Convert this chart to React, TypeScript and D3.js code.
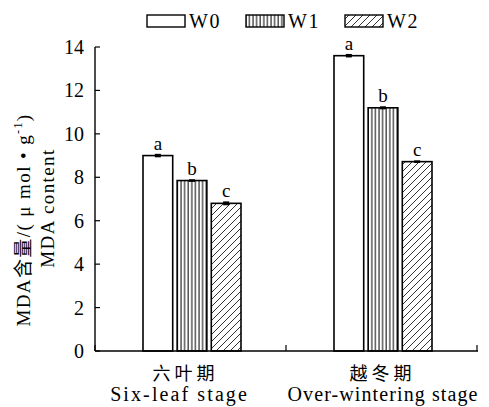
import React from 'react'
import * as d3 from 'd3'

const width = 489
const height = 407

const stages = ['六叶期', '越冬期']
const stagesEn = ['Six-leaf stage', 'Over-wintering stage']
const series = ['W0', 'W1', 'W2']
const valuesW0 = [9.0, 13.6]
const valuesW1 = [7.85, 11.2]
const valuesW2 = [6.8, 8.72]
const errW0 = [0.08, 0.08]
const errW1 = [0.06, 0.07]
const errW2 = [0.09, 0.06]
const lettersW0 = ['a', 'a']
const lettersW1 = ['b', 'b']
const lettersW2 = ['c', 'c']
const yTicks = [0, 2, 4, 6, 8, 10, 12, 14]

const font = '"Liberation Serif", "Times New Roman", "Noto Sans CJK SC", serif'

const App = () => {
  const x = d3.scaleBand().domain(stages).range([95, 477]).paddingInner(0).paddingOuter(0)
  const xs = d3.scaleBand().domain(series).range([48, 146]).paddingInner(0.13)
  const y = d3.scaleLinear().domain([0, 14]).range([351, 47])

  const vals = [valuesW0, valuesW1, valuesW2]
  const errs = [errW0, errW1, errW2]
  const letters = [lettersW0, lettersW1, lettersW2]
  const fills = ['#fff', 'url(#vert)', 'url(#diag)']

  const bars: any[] = []
  stages.forEach((st, i) => {
    series.forEach((s, j) => {
      bars.push({st, s, v: vals[j][i], e: errs[j][i], l: letters[j][i], fill: fills[j]})
    })
  })

  const legendX = [147, 246, 345]
  // small horizontal nudges for the category labels
  const cnShift = [-7, -1]
  const enShift = [-12, 1]
  const enSpacing = [2.1, 1.1]

  return (
    <div style={{width: '100%'}}>
      <svg width={width} height={height} style={{position: 'absolute', left: 0, top: 0, background: '#fff'}}>
        <defs>
          <pattern id="vert" patternUnits="userSpaceOnUse" width="3.6" height="10">
            <rect width="3.6" height="10" fill="#fff" />
            <line x1="1" y1="0" x2="1" y2="10" stroke="#000" strokeWidth="1" />
          </pattern>
          <pattern id="diag" patternUnits="userSpaceOnUse" width="7" height="7">
            <rect width="7" height="7" fill="#fff" />
            <path d="M0,7 L7,0 M-1,1 L1,-1 M6,8 L8,6" stroke="#000" strokeWidth="0.8" />
          </pattern>
        </defs>

        {/* bars */}
        {bars.map((b, k) => {
          const bx = (x(b.st) as number) + (xs(b.s) as number)
          const bw = xs.bandwidth()
          const cx = bx + bw / 2
          return (
            <g key={k}>
              <rect x={bx} y={y(b.v)} width={bw} height={y(0) - y(b.v)} fill={b.fill} stroke="#000" strokeWidth={1.6} />
              <rect x={cx - 3} y={y(b.v + b.e)} width={6} height={y(b.v - b.e) - y(b.v + b.e)} fill="#000" />
              <text x={cx} y={y(b.v + b.e) - 4} textAnchor="middle" fontFamily={font} fontSize={19}>
                {b.l}
              </text>
            </g>
          )
        })}

        {/* axes */}
        <line x1={95} x2={95} y1={y(14)} y2={y(0)} stroke="#000" strokeWidth={1.4} />
        <line x1={95} x2={478} y1={y(0)} y2={y(0)} stroke="#000" strokeWidth={1.4} />
        {yTicks.map(t => (
          <g key={t}>
            <line x1={95} x2={100} y1={y(t)} y2={y(t)} stroke="#000" strokeWidth={1.2} />
            <text x={84} y={y(t)} dy="0.35em" textAnchor="end" fontFamily={font} fontSize={20}>
              {t}
            </text>
          </g>
        ))}
        {[95, 286, 477].map(tx => (
          <line key={tx} x1={tx} x2={tx} y1={y(0)} y2={y(0) - 6} stroke="#000" strokeWidth={1.2} />
        ))}

        {/* x labels */}
        {stages.map((st, i) => {
          const cx = (x(st) as number) + x.bandwidth() / 2
          return (
            <g key={st}>
              <text x={cx + cnShift[i] + 2} y={380} textAnchor="middle" fontFamily={font} fontSize={18} letterSpacing={4}>
                {st}
              </text>
              <text x={cx + enShift[i] + enSpacing[i] / 2} y={401} textAnchor="middle" fontFamily={font} fontSize={20} letterSpacing={enSpacing[i]}>
                {stagesEn[i]}
              </text>
            </g>
          )
        })}

        {/* y title */}
        <text transform="translate(30,220) rotate(-90)" textAnchor="middle" fontFamily={font} fontSize={19} letterSpacing={1.4}>
          MDA含量/( μ mol • g
          <tspan dy={-8} fontSize={12}>-1</tspan>
          <tspan dy={8}>)</tspan>
        </text>
        <text transform="translate(54,208) rotate(-90)" textAnchor="middle" fontFamily={font} fontSize={19} letterSpacing={1.4}>
          MDA  content
        </text>

        {/* legend */}
        {series.map((s, j) => (
          <g key={s}>
            <rect x={legendX[j]} y={15} width={38} height={12} fill={fills[j]} stroke="#000" strokeWidth={1.4} />
            <text x={legendX[j] + 42} y={28} fontFamily={font} fontSize={20} letterSpacing={1.5}>
              {s}
            </text>
          </g>
        ))}
      </svg>
    </div>
  )
}

export default App
